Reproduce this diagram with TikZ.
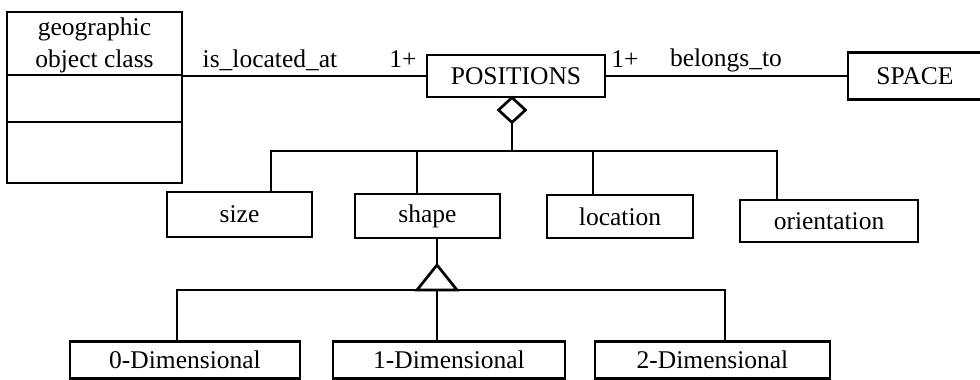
\documentclass[tikz,border=0pt]{standalone}
\usepackage{fontspec}
\setmainfont{Liberation Serif}
\usetikzlibrary{shapes.geometric}

\begin{document}
\begin{tikzpicture}[x=1pt, y=-1pt, line width=2.7pt,
  font=\fontsize{25.5}{30}\selectfont,
  cls/.style={draw, rectangle, inner sep=0pt}]
\useasboundingbox (0,0) rectangle (980,380);

\node[cls, minimum width=175pt, minimum height=171pt] (geo) at (94.5,97.5) {};
\draw (geo.west |- 0,75) -- (geo.east |- 0,75);
\draw (geo.west |- 0,122) -- (geo.east |- 0,122);
\node[anchor=base] (geoA) at (94.5,35) {geographic};
\node[anchor=base] (geoB) at (94.5,67) {object class};

\node[cls, minimum width=178pt, minimum height=42pt] (pos) at (516,76) {POSITIONS};
\node[cls, minimum width=134pt, minimum height=47pt] (space) at (915,76) {SPACE};

\draw (pos.west -| geo.east) -- (pos.west);
\draw (pos.east) -- (space.west);
\node[anchor=base] (locAt) at (270,67) {is\_located\_at};
\node[anchor=base] (multA) at (403,67) {1+};
\node[anchor=base] (multB) at (625,67) {1+};
\node[anchor=base] (belTo) at (726,66) {belongs\_to};

\foreach \n/\x/\y/\w/\h/\t in {size/239.5/214.5/145/45/size, shape/427.5/216/145/44/shape,
    loc/620/216.5/146/43/location, orient/829/221/178/42/orientation}
  \node[cls, minimum width=\w pt, minimum height=\h pt] (\n) at (\x,\y) {\t};

\foreach \n/\x/\w/\t in {zeroD/185/230/0-Dimensional, oneD/449/232/1-Dimensional,
    twoD/712.5/235/2-Dimensional}
  \node[cls, minimum width=\w pt, minimum height=37pt] (\n) at (\x,360) {\t};

% aggregation
\node[draw, diamond, fill=white, inner sep=0pt, minimum width=28pt, minimum height=26pt] (agg) at (512,110) {};
\coordinate (bus) at (512,151);
\draw (agg.south) -- (bus);
\draw ([xshift=31.5pt]size.north) |- ([xshift=-52pt]orient.north |- bus) -- ([xshift=-52pt]orient.north);
\foreach \n/\s in {shape/-10.5, loc/-27}
  \draw ([xshift=\s pt]\n.north) -- ([xshift=\s pt]\n.north |- bus);

% generalisation
\coordinate (gtop) at (437,265);
\coordinate (gbase) at (437,290);
\draw (shape.south -| gtop) -- (gtop);
\draw[line join=miter] (gtop) -- ++(-20,25) -- ++(40,0) -- cycle;
\draw ([xshift=-8pt]zeroD.north) |- ([xshift=12.5pt]twoD.north |- gbase) -- ([xshift=12.5pt]twoD.north);
\draw (oneD.north -| gbase) -- (gbase);
\end{tikzpicture}
\end{document}
